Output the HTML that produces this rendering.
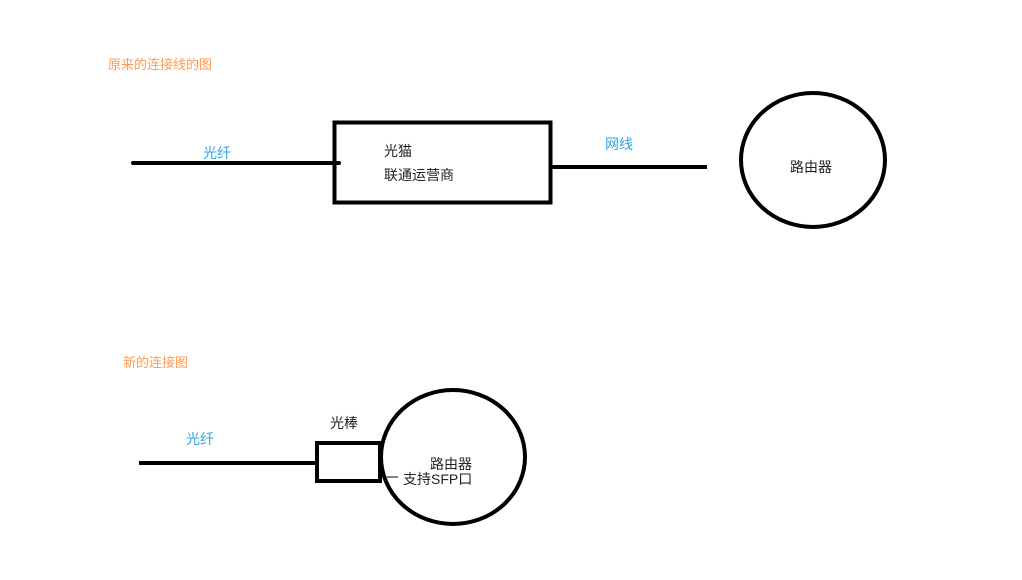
<!DOCTYPE html>
<html><head><meta charset="utf-8"><style>
body{margin:0;width:1022px;height:575px;background:#fff;overflow:hidden;}
svg text{font-family:"Liberation Sans","Noto Sans CJK SC",sans-serif;font-size:14px;}
</style></head><body>
<svg width="1022" height="575" viewBox="0 0 1022 575">
<text x="108" y="69" fill="#ff9a52" style="font-size:13px">原来的连接线的图</text>
<text x="203" y="158" fill="#2aa6e6">光纤</text>
<line x1="133" y1="163" x2="339" y2="163" stroke="#000" stroke-width="4" stroke-linecap="round"/>
<rect x="334.5" y="122.5" width="216" height="80" fill="none" stroke="#000" stroke-width="4"/>
<text x="384" y="156" fill="#222">光猫</text>
<text x="384" y="180" fill="#222">联通运营商</text>
<line x1="551" y1="167" x2="707" y2="167" stroke="#000" stroke-width="4"/>
<text x="605" y="149" fill="#2aa6e6">网线</text>
<ellipse cx="813" cy="160" rx="72" ry="67" fill="none" stroke="#000" stroke-width="4"/>
<text x="790" y="172" fill="#222">路由器</text>
<text x="123" y="367" fill="#ff9a52" style="font-size:13px">新的连接图</text>
<text x="186" y="444" fill="#2aa6e6">光纤</text>
<line x1="139" y1="463" x2="316" y2="463" stroke="#000" stroke-width="4"/>
<text x="330" y="428" fill="#222">光棒</text>
<ellipse cx="453" cy="457" rx="72" ry="67" fill="none" stroke="#000" stroke-width="4"/>
<rect x="317" y="443" width="63" height="38" fill="none" stroke="#000" stroke-width="4"/>
<text x="430" y="469" fill="#222">路由器</text>
<text x="403" y="484" fill="#222">支持SFP口</text>
<line x1="387" y1="477" x2="398" y2="477" stroke="#000" stroke-width="1"/>
</svg>
</body></html>
